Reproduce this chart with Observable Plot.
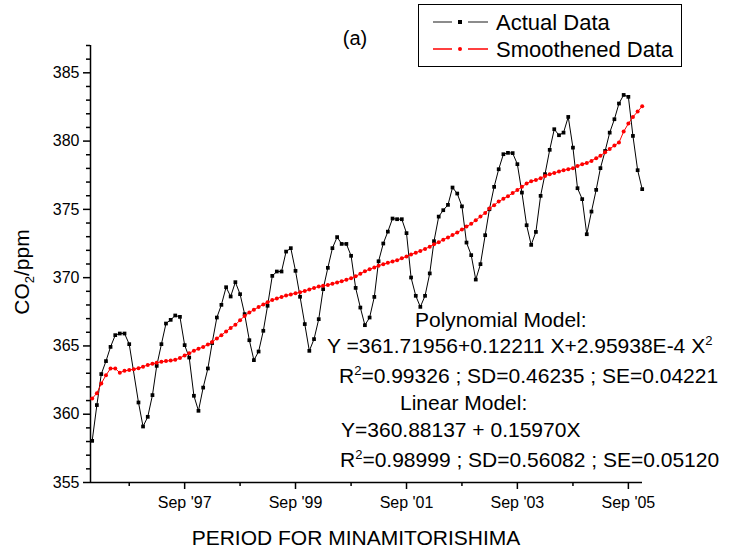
<!DOCTYPE html>
<html>
<head>
<meta charset="utf-8">
<script src="https://cdn.jsdelivr.net/npm/d3@7"></script>
<script src="https://cdn.jsdelivr.net/npm/@observablehq/plot@0.6"></script>
<style>
  html, body { margin: 0; padding: 0; background: white; }
  #chart { position: relative; width: 731px; height: 550px; overflow: hidden; }
</style>
</head>
<body>
<div id="chart"></div>
<script>
// ---- Data (monthly, Jan 1996 .. Dec 2005) ----
const firstMonth = "1996-01-01";
const lastMonthExclusive = "2006-01-01";

const actualData = [
  358.05, 360.67, 362.94, 363.89, 364.93, 365.79, 365.91, 365.91, 365.13, null,
  360.86, 359.10, 359.81, 361.40, 363.54, 365.13, 366.64, 366.91, 367.23, 367.13,
  365.06, 364.15, 361.35, 360.25, 361.95, 363.35, 365.21, 367.08, 368.01, 369.30,
  368.62, 369.67, 368.79, 367.33, 365.42, 363.96, 364.59, 366.11, 367.94, 370.13,
  370.45, 370.45, 371.91, 372.16, 370.50, 368.60, 366.60, 364.64, 365.50, 366.96,
  369.16, 370.72, 372.16, 372.97, 372.47, 372.47, 371.60, 369.25, 367.81, 366.52,
  367.08, 368.59, 371.20, 372.50, 373.37, 374.33, 374.28, 374.28, 373.26, 370.01,
  368.67, 367.86, 368.67, 370.31, 372.67, 374.47, 374.94, 375.33, 376.60, 376.16,
  375.22, 372.57, 371.65, 369.86, 370.99, 373.11, 375.01, 376.65, 377.94, 379.04,
  379.14, 379.12, 378.31, 376.23, 373.84, 372.40, 373.35, 375.99, 377.58, 379.36,
  380.87, 380.43, 380.62, 381.77, 379.52, 376.55, 375.75, 373.18, 374.84, 376.43,
  378.02, 379.28, 380.62, 381.60, 382.75, 383.38, 383.24, 380.38, 377.87, 376.48
];

const smoothedData = [
  361.15, 361.54, 362.25, 362.86, 363.35, 363.35, 363.04, 363.18, 363.23, 363.30,
  363.37, 363.48, 363.61, 363.69, 363.76, 363.84, 363.89, 363.93, 363.98, 364.11,
  364.30, 364.47, 364.64, 364.79, 364.93, 365.10, 365.29, 365.55, 365.78, 366.06,
  366.32, 366.55, 366.88, 367.20, 367.45, 367.65, 367.85, 368.03, 368.20, 368.37,
  368.47, 368.59, 368.69, 368.77, 368.86, 368.93, 369.03, 369.13, 369.25, 369.35,
  369.40, 369.47, 369.55, 369.65, 369.74, 369.85, 369.96, 370.10, 370.28, 370.47,
  370.62, 370.74, 370.88, 370.99, 371.09, 371.18, 371.28, 371.42, 371.55, 371.70,
  371.82, 371.96, 372.10, 372.27, 372.44, 372.60, 372.78, 372.94, 373.12, 373.30,
  373.52, 373.74, 373.94, 374.20, 374.48, 374.74, 375.06, 375.31, 375.57, 375.77,
  375.97, 376.19, 376.41, 376.65, 376.89, 377.06, 377.16, 377.28, 377.45, 377.58,
  377.67, 377.77, 377.87, 377.94, 378.02, 378.18, 378.31, 378.40, 378.55, 378.75,
  378.92, 379.19, 379.43, 379.67, 379.89, 380.70, 381.28, 381.77, 382.16, 382.55
];

const seriesNames = ["Actual Data", "Smoothened Data"];

const xMajorTicks = ["1997-09-01", "1999-09-01", "2001-09-01", "2003-09-01", "2005-09-01"];
const xTickLabels = ["Sep '97", "Sep '99", "Sep '01", "Sep '03", "Sep '05"];
const xMinorTicks = ["1996-09-01", "1998-09-01", "2000-09-01", "2002-09-01", "2004-09-01"];
const yMajorTicks = [355, 360, 365, 370, 375, 380, 385];
const yMinorTicks = [356, 357, 358, 359, 361, 362, 363, 364, 366, 367, 368, 369,
                     371, 372, 373, 374, 376, 377, 378, 379, 381, 382, 383, 384, 386, 387];

// ---- Build tables ----
const months = d3.utcMonth.range(new Date(firstMonth), new Date(lastMonthExclusive));
const actualRows = months.map((d, i) => ({date: d, value: actualData[i]})).filter(r => r.value != null);
const smoothRows = months.map((d, i) => ({date: d, value: smoothedData[i]}));
const majorDates = xMajorTicks.map(s => new Date(s));
const minorDates = xMinorTicks.map(s => new Date(s));
const xDomain = [new Date("1995-12-21"), new Date("2005-12-03")];

const FONT = "'Liberation Sans', Arial, Helvetica, sans-serif";

const svg = Plot.plot({
  width: 731,
  height: 550,
  marginLeft: 90,
  marginRight: 89,
  marginTop: 45,
  marginBottom: 68,
  style: {fontFamily: FONT, fontSize: "16px", background: "white", color: "black", overflow: "visible"},
  x: {type: "utc", domain: xDomain},
  y: {domain: [355, 387]},
  marks: [
    Plot.axisY({ticks: yMajorTicks, tickSize: 7, tickPadding: 4, strokeWidth: 1.5, fontSize: 16, label: null, tickFormat: d => String(d)}),
    Plot.axisY({ticks: yMinorTicks, tickSize: 4, strokeWidth: 1.5, label: null, tickFormat: () => ""}),
    Plot.axisX({ticks: majorDates, tickSize: 7, tickPadding: 7, strokeWidth: 1.5, fontSize: 16, label: null,
      tickFormat: d => xTickLabels[majorDates.findIndex(t => +t === +d)]}),
    Plot.axisX({ticks: minorDates, tickSize: 4, strokeWidth: 1.5, label: null, tickFormat: () => ""}),
    Plot.ruleX([xDomain[0]], {strokeWidth: 1.5}),
    Plot.ruleY([355], {strokeWidth: 1.5}),
    Plot.line(actualRows, {x: "date", y: "value", stroke: "black", strokeWidth: 1}),
    Plot.dot(actualRows, {x: "date", y: "value", symbol: "square", r: 2.1, fill: "black", stroke: null}),
    Plot.line(smoothRows, {x: "date", y: "value", stroke: "#ff0000", strokeWidth: 1}),
    Plot.dot(smoothRows, {x: "date", y: "value", r: 2, fill: "#ff0000", stroke: null})
  ]
});

document.getElementById("chart").appendChild(svg);

// ---- Annotations ----
const s = d3.select(svg);
const ann = s.append("g").attr("font-family", FONT).attr("fill", "black");

function addText(x, y, size, pieces, anchor) {
  const t = ann.append("text").attr("x", x).attr("y", y).attr("font-size", size)
    .attr("text-anchor", anchor || "start");
  pieces.forEach(p => {
    const ts = t.append("tspan").text(p.t);
    if (p.sup) ts.attr("font-size", Math.round(size * 0.6)).attr("dy", -size * 0.38);
    if (p.back) ts.attr("dy", p.back);
  });
  return t;
}

// title
addText(355, 45, 20, [{t: "(a)"}], "middle");

// axis titles
addText(356, 545, 21, [{t: "PERIOD FOR MINAMITORISHIMA"}], "middle");
const yl = ann.append("text").attr("transform", "translate(29,272) rotate(-90)")
  .attr("font-size", 21).attr("text-anchor", "middle");
yl.append("tspan").text("CO");
yl.append("tspan").text("2").attr("font-size", 13).attr("dy", 5);
yl.append("tspan").text("/ppm").attr("dy", -5);

// model annotations
addText(415, 327, 21, [{t: "Polynomial Model:"}]);
addText(327, 353, 21, [{t: "Y =361.71956+0.12211 X+2.95938E-4 X"}, {t: "2", sup: true}]);
addText(339, 383, 21, [{t: "R"}, {t: "2", sup: true}, {t: "=0.99326 ; SD=0.46235 ; SE=0.04221", back: 21 * 0.38}]);
addText(400, 410, 21, [{t: "Linear Model:"}]);
addText(341, 437, 21, [{t: "Y=360.88137 + 0.15970X"}]);
addText(340, 467, 21, [{t: "R"}, {t: "2", sup: true}, {t: "=0.98999 ; SD=0.56082 ; SE=0.05120", back: 21 * 0.38}]);

// legend
const lg = s.append("g").attr("font-family", FONT);
lg.append("rect").attr("x", 418.5).attr("y", 4.5).attr("width", 263).attr("height", 62)
  .attr("fill", "white").attr("stroke", "black").attr("stroke-width", 1);
const rows = [
  {y: 22, line: "#666666", marker: "square", color: "black", name: seriesNames[0]},
  {y: 49, line: "#ff0000", marker: "circle", color: "#ff0000", name: seriesNames[1]}
];
rows.forEach(r => {
  lg.append("line").attr("x1", 433).attr("x2", 452).attr("y1", r.y).attr("y2", r.y)
    .attr("stroke", r.line).attr("stroke-width", 1.5);
  lg.append("line").attr("x1", 468).attr("x2", 488).attr("y1", r.y).attr("y2", r.y)
    .attr("stroke", r.line).attr("stroke-width", 1.5);
  if (r.marker === "square") {
    lg.append("rect").attr("x", 458).attr("y", r.y - 2).attr("width", 4).attr("height", 4).attr("fill", r.color);
  } else {
    lg.append("circle").attr("cx", 460).attr("cy", r.y).attr("r", 2).attr("fill", r.color);
  }
  lg.append("text").attr("x", 496).attr("y", r.y).attr("dy", "0.36em").attr("font-size", 22)
    .attr("text-anchor", "start").attr("fill", "black").text(r.name);
});
</script>
</body>
</html>
